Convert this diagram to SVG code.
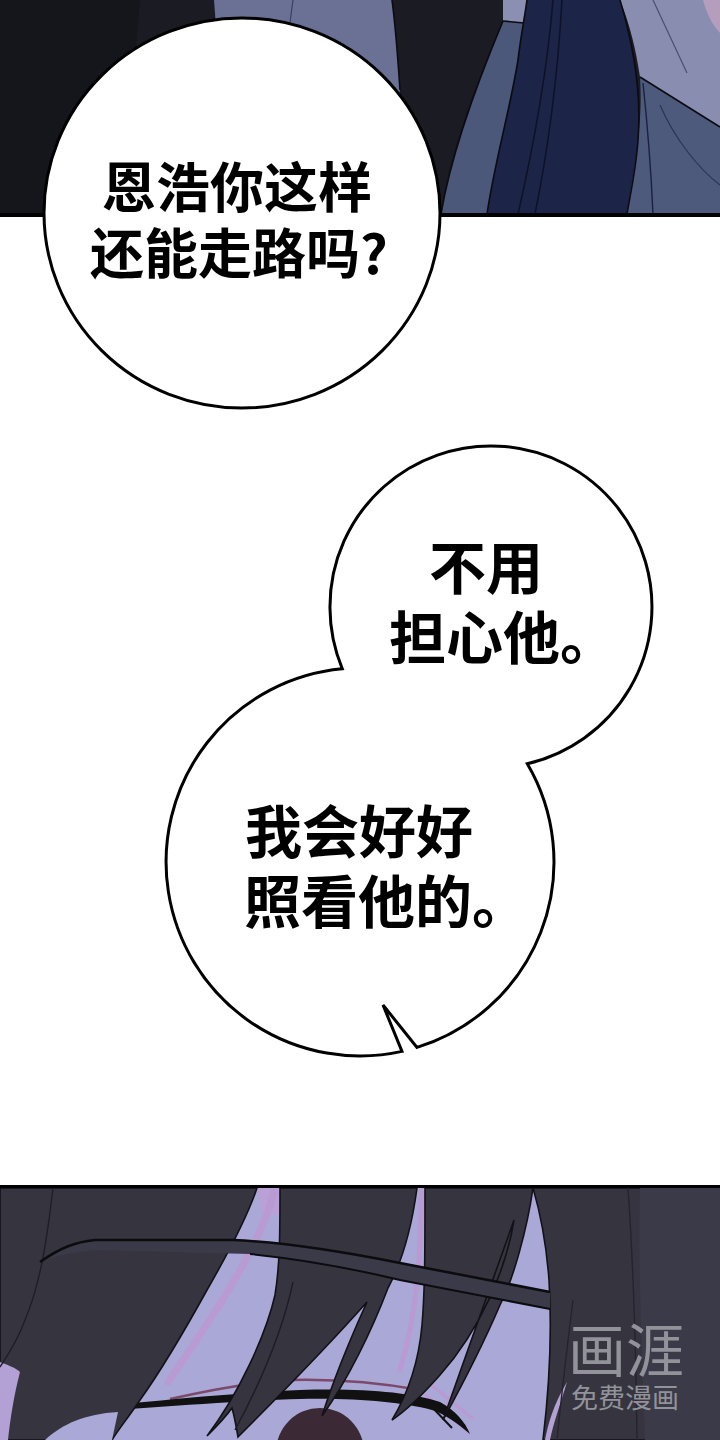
<svg xmlns="http://www.w3.org/2000/svg" width="720" height="1440" viewBox="0 0 720 1440">
<style>
.say{font-family:"Noto Sans CJK SC","Noto Sans CJK JP",sans-serif;font-weight:700;fill:#000}
.bub{fill:#fff;stroke:#000;stroke-width:3;stroke-linejoin:miter}
.hair{fill:#36353f;stroke:#121118;stroke-width:1.6}
.edge{fill:none;stroke:#0b0b10;stroke-width:1.6}
.pink{fill:none;stroke:#b99ad2;stroke-linecap:round}
.wm{font-family:"Noto Sans CJK SC",sans-serif;fill:#92929a}
</style>
<rect width="720" height="1440" fill="#fff"/>
<g id="panel-top">
<rect x="0" y="0" width="720" height="214" fill="#1a1b23"/>
<path d="M0 0 H140 C135 60 130 120 128 214 H0 Z" fill="#15161c"/>
<path d="M214 0 H392 C396 30 398 60 400 90 L380 214 L230 214 Z" fill="#6b7194"/>
<path d="M293 0 L289 30" stroke="#3c4060" stroke-width="1.2"/>
<path d="M503 0 H527 L524 24 L503 21 Z" fill="#8b8fb2"/>
<path d="M503 21 L524 23 C520 60 508 120 487 214 L441 214 C450 160 470 100 503 21 Z" fill="#4b587a"/>
<path d="M527 0 L620 0 C632 40 642 90 638 140 C636 170 630 195 627 214 L487 214 C495 160 510 110 518 60 C521 35 525 15 527 0 Z" fill="#1c2447"/>
<path d="M620 0 L720 0 L720 127 L640 77 C636 50 630 25 620 0 Z" fill="#898db0"/>
<path d="M640 77 L720 127 L720 214 L627 214 C630 190 637 160 639 130 C641 110 641 95 640 77 Z" fill="#4d5a7c"/>
<path d="M703 0 L720 0 L720 33 C712 25 706 12 703 0 Z" fill="#b59dbd"/>
<path d="M653 0 L687 73" stroke="#4a4e70" stroke-width="1.2"/>
<path d="M643 83 C648 130 651 170 653 214" stroke="#1b2040" stroke-width="1.4" fill="none"/>
<path d="M660 105 C675 140 700 170 720 185" stroke="#2b3454" stroke-width="1.2" fill="none"/>
<path d="M553 0 C548 60 535 140 518 214 M562 0 C558 70 548 150 535 214" stroke="#0d1229" stroke-width="1.5" fill="none"/>
<path d="M392 0 C396 30 398 60 400 90" class="edge"/>
<path d="M503 21 C470 100 450 160 441 214" class="edge"/>
<path d="M527 0 C525 15 521 35 518 60 C510 110 495 160 487 214" class="edge"/>
<path d="M620 0 C632 40 642 90 638 140 C636 170 630 195 627 214" class="edge"/>
<path d="M640 77 L720 127" class="edge"/>
<path d="M503 21 L524 23" class="edge"/>
<rect x="0" y="213" width="720" height="4" fill="#000"/>
</g>
<g id="panel-bottom">
<rect x="0" y="1188" width="720" height="252" fill="#a9a8d6"/>
<path d="M257 1188 L281 1188 L279 1215 L262 1215 Z" fill="#b9a0d6"/>
<path class="pink" d="M274 1192 C262 1240 225 1300 168 1382" stroke-width="7"/>
<path class="pink" d="M421 1192 C421 1250 418 1310 400 1370" stroke-width="5"/>
<path class="pink" d="M514 1224 C500 1290 470 1360 446 1408" stroke-width="4"/>
<path class="pink" d="M530 1196 C520 1250 505 1300 470 1362" stroke-width="6"/>
<path class="pink" d="M416 1386 L468 1432 M425 1380 L472 1418" stroke-width="3"/>
<circle cx="320" cy="1452" r="44" fill="#3b2a35"/>
<path d="M170 1399 C210 1390 250 1382 290 1380 C330 1379 370 1381 420 1390" fill="none" stroke="#7b4a6a" stroke-width="2.5"/>
<path d="M40 1413 C120 1404 230 1393 300 1390 C360 1388 410 1392 440 1402 C455 1410 465 1422 470 1434 C458 1424 445 1414 432 1410 C400 1402 360 1398 300 1399 C230 1401 120 1410 40 1416 Z" fill="#111"/>
<path d="M430 1405 L452 1428 M440 1404 L465 1426" stroke="#111" stroke-width="2" fill="none"/>
<path class="hair" d="M0 1188 L257 1188 C248 1215 230 1250 207 1290 C185 1330 160 1372 140 1400 C128 1418 118 1430 112 1440 L0 1440 Z"/>
<path d="M0 1362 C8 1365 16 1368 20 1372 C14 1395 10 1420 8 1440 L0 1440 Z" fill="#b3a0d4"/>
<path d="M45 1440 C62 1424 85 1414 118 1412 L112 1440 Z" fill="#a9a8d6"/>
<path d="M53 1188 C48 1230 42 1280 25 1320 C18 1340 8 1355 0 1367" stroke="#1f1e28" stroke-width="1.4" fill="none"/>
<path class="hair" d="M280 1188 L417 1188 C412 1225 402 1262 388 1288 C372 1330 348 1380 322 1416 C334 1378 352 1335 367 1302 C335 1338 290 1385 238 1437 C236 1425 234 1415 232 1408 C225 1418 215 1428 207 1436 C238 1395 266 1335 275 1295 C280 1265 280 1230 280 1188 Z"/>
<path d="M293 1282 C285 1320 270 1365 235 1430" stroke="#1e1d27" stroke-width="1.4" fill="none"/>
<path class="hair" d="M425 1188 L533 1188 C527 1230 513 1280 500 1305 C485 1340 465 1380 443 1420 C458 1378 478 1320 514 1220 C506 1270 480 1330 440 1375 C425 1392 410 1408 392 1420 C404 1400 418 1370 422 1325 C425 1290 425 1250 425 1188 Z"/>
<path class="hair" d="M533 1188 L720 1188 L720 1440 L543 1440 C549 1390 552 1330 549 1280 C546 1240 541 1215 533 1188 Z"/>
<path d="M640 1188 L720 1188 L720 1440 L645 1440 C642 1350 638 1270 640 1188 Z" fill="#3b3a48"/>
<path d="M567 1382 C560 1405 553 1425 550 1440 L545 1440 C548 1425 553 1405 567 1382 Z" fill="#b3a0d4"/>
<path d="M573 1300 C568 1340 562 1390 557 1440 M628 1188 C633 1260 636 1350 637 1440" stroke="#25242e" stroke-width="1.4" fill="none"/>
<path d="M40 1262 C60 1248 75 1242 95 1240 L233 1240 C280 1242 340 1251 400 1263 L550 1292 L550 1309 L400 1280 C340 1268 290 1258 250 1254 L100 1250 C75 1251 55 1256 40 1262 Z" fill="#3b3a48"/>
<path d="M40 1262 C60 1248 75 1242 95 1240 L233 1240 C280 1242 340 1251 400 1263 L550 1292" stroke="#0b0b10" stroke-width="2.5" fill="none"/>
<path d="M250 1254 C300 1259 350 1268 400 1280 L550 1309" stroke="#0b0b10" stroke-width="2" fill="none"/>
<text class="wm" x="568" y="1372" font-size="58">画涯</text>
<text class="wm" x="571" y="1408" font-size="27" fill="#a3a3a8">免费漫画</text>
<rect x="0" y="1185" width="720" height="3" fill="#000"/>
</g>
<g id="bubble-1">
<ellipse class="bub" cx="242" cy="213" rx="198" ry="195"/>
<text class="say" x="102" y="208" font-size="54">恩浩你这样</text>
<text class="say" x="90" y="274" font-size="54">还能走路吗?</text>
</g>
<g id="bubble-2-3">
<path class="bub" d="M342.3 668.8 A161 161 0 1 1 527.3 763.8 A194 194 0 0 1 417 1047.4 L383 1005 L402 1051.4 A194 194 0 1 1 342.3 668.8 Z"/>
<g id="bubble-2">
<text class="say" x="429" y="589" font-size="57">不用</text>
<text class="say" x="389" y="659" font-size="57">担心他。</text>
</g>
<g id="bubble-3">
<text class="say" x="245" y="853" font-size="57">我会好好</text>
<text class="say" x="244" y="923" font-size="57">照看他的。</text>
</g>
</g>
<g id="connectors"/>
</svg>
